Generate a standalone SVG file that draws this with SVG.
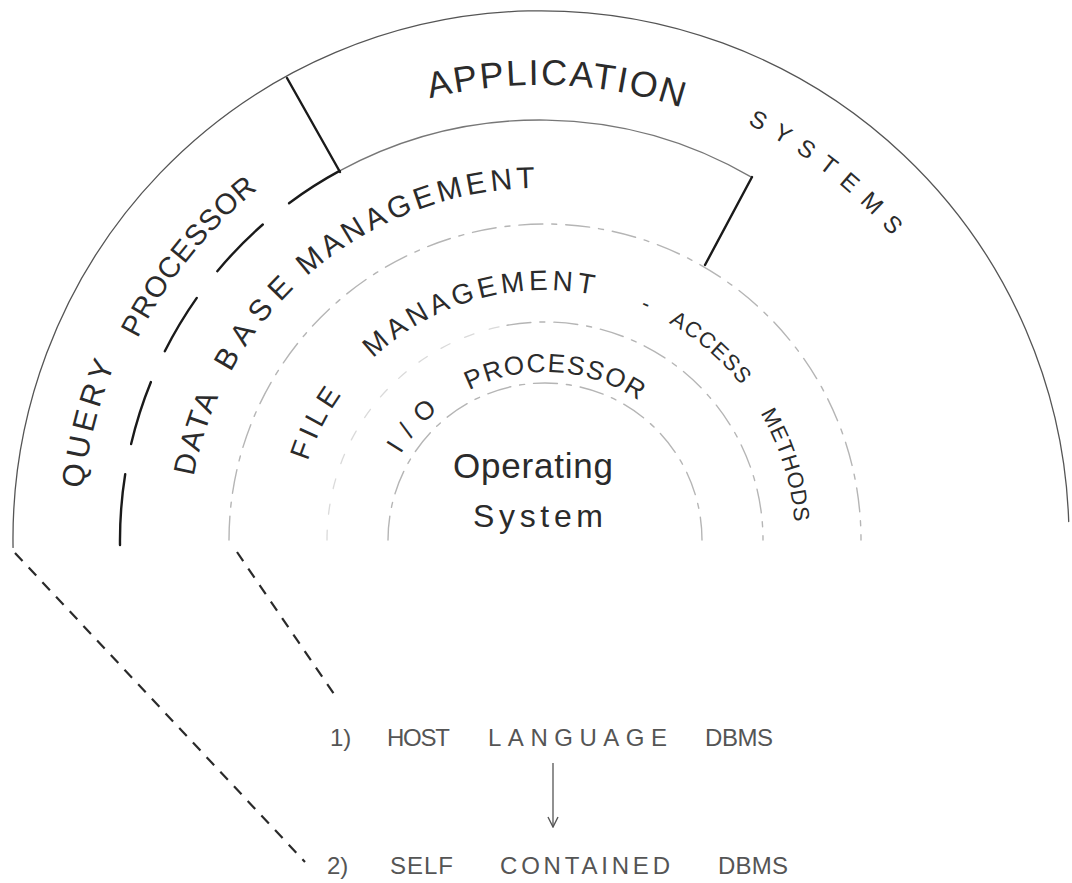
<svg xmlns="http://www.w3.org/2000/svg" width="1072" height="883" viewBox="0 0 1072 883">
<style>
.bg{fill:#ffffff}
.ring{fill:none;stroke:#555;stroke-width:1.3;stroke-linecap:round}
.ringlight{fill:none;stroke:#777;stroke-width:1.3;stroke-linecap:round}
.ink{fill:none;stroke:#1a1a1a;stroke-width:2.4;stroke-linecap:round}
.faint{fill:none;stroke:#b5b5b5;stroke-width:1.4;stroke-dasharray:24 9 5 9;stroke-linecap:round}
.fainter{fill:none;stroke:#dadada;stroke-width:1.3;stroke-dasharray:10 16;stroke-linecap:round}
.dash{fill:none;stroke:#2a2a2a;stroke-width:2.2;stroke-dasharray:11 9}
.lbl{font-family:"Liberation Sans",Arial,sans-serif;fill:#2b2b2b}
.low{font-family:"Liberation Sans",Arial,sans-serif;fill:#555;font-size:24px}
.arrow{fill:none;stroke:#555;stroke-width:1.3}
</style>
<defs>
<path id="pApp" d="M429.9,98.5 A455,455 0 0 1 684.4,108.5"/>
<path id="pSys" d="M747.5,123.9 A465,465 0 0 1 893.1,237.4"/>
<path id="pQuery" d="M82.9,488.7 A460,460 0 0 1 115.6,362.5"/>
<path id="pProc" d="M137.6,338.5 A450,450 0 0 1 259.3,188.3"/>
<path id="pDbm" d="M193.8,476.5 A352,352 0 0 1 536.9,188.0"/>
<path id="pFile" d="M295,540 A250,250 0 0 1 795,540"/>
<path id="pIO" d="M377,540 A168,168 0 0 1 713,540"/>
<marker id="head" viewBox="0 0 12 12" refX="11" refY="6" markerWidth="12" markerHeight="12" markerUnits="userSpaceOnUse" orient="auto">
<path d="M1,1 L11,6 L1,11" fill="none" stroke="#555" stroke-width="1.4"/>
</marker>
</defs>
<rect class="bg" x="0" y="0" width="1072" height="883"/>

<g id="rings">
<path id="outer-arc" class="ring" d="M13.05,547.4 A528,528 0 0 1 1068.7,521.6"/>
<path id="app-inner-arc" class="ringlight" d="M339.6,170.9 A420,420 0 0 1 751.9,177.4"/>
<path id="dbm-outer-dark" class="ink" d="M289.0,203.2 A420,420 0 0 1 339.6,170.9"/>
<path class="ink" d="M217.3,271.2 A420,420 0 0 1 262.8,224.5"/>
<path class="ink" d="M164.8,351.3 A420,420 0 0 1 196.8,297.9"/>
<path class="ink" d="M131.1,444.1 A420,420 0 0 1 150.9,382.0"/>
<path class="ink" d="M120.0,545.1 A420,420 0 0 1 125.2,474.3"/>
<line id="divider-1" class="ink" x1="287" y1="78" x2="340" y2="172"/>
<line id="divider-2" class="ink" x1="752" y1="177" x2="705" y2="265"/>
<path id="file-outer-arc" class="faint" d="M229,540 A316,316 0 0 1 861,540"/>
<path id="io-outer-arc-left" class="fainter" d="M327,540 A218,218 0 0 1 507.1,325.3"/>
<path id="io-outer-arc" class="faint" d="M507.1,325.3 A218,218 0 0 1 763,540"/>
<path id="os-arc" class="faint" d="M388,540 A157,157 0 0 1 702,540"/>
</g>

<g id="labels">
<g id="application-systems">
<text class="lbl" font-size="36"><textPath href="#pApp" textLength="255" lengthAdjust="spacing">APPLICATION</textPath></text>
<text class="lbl" font-size="24"><textPath href="#pSys" textLength="184" lengthAdjust="spacing">SYSTEMS</textPath></text>
</g>
<g id="query-processor">
<text class="lbl" font-size="31"><textPath href="#pQuery" textLength="129" lengthAdjust="spacing">QUERY</textPath></text>
<text class="lbl" font-size="29"><textPath href="#pProc" textLength="193" lengthAdjust="spacing">PROCESSOR</textPath></text>
</g>
<g id="data-base-management">
<text class="lbl" font-size="30"><textPath href="#pDbm" startOffset="0" textLength="84" lengthAdjust="spacing">DATA</textPath></text>
<text class="lbl" font-size="30"><textPath href="#pDbm" startOffset="111" textLength="106" lengthAdjust="spacing">BASE</textPath></text>
<text class="lbl" font-size="30"><textPath href="#pDbm" startOffset="234" textLength="250" lengthAdjust="spacing">MANAGEMENT</textPath></text>
</g>
<g id="file-management">
<text class="lbl" font-size="28"><textPath href="#pFile" startOffset="80" textLength="75" lengthAdjust="spacing">FILE</textPath></text>
<text class="lbl" font-size="28"><textPath href="#pFile" startOffset="203" textLength="238" lengthAdjust="spacing">MANAGEMENT</textPath></text>
<text class="lbl" font-size="22"><textPath href="#pFile" startOffset="490">-</textPath></text>
<text class="lbl" font-size="22"><textPath href="#pFile" startOffset="522" textLength="96" lengthAdjust="spacing">ACCESS</textPath></text>
<text class="lbl" font-size="22"><textPath href="#pFile" startOffset="652" textLength="115" lengthAdjust="spacing">METHODS</textPath></text>
</g>
<g id="io-processor">
<text class="lbl" font-size="26"><textPath href="#pIO" startOffset="90" textLength="58" lengthAdjust="spacing">I/O</textPath></text>
<text class="lbl" font-size="26"><textPath href="#pIO" startOffset="185" textLength="178" lengthAdjust="spacing">PROCESSOR</textPath></text>
</g>
<g id="operating-system">
<text class="lbl" font-size="35" x="453" y="478" textLength="160" lengthAdjust="spacing">Operating</text>
<text class="lbl" font-size="32" x="473" y="527" textLength="130" lengthAdjust="spacing">System</text>
</g>
<g id="host-language">
<text class="low" y="746"><tspan x="330">1)</tspan><tspan x="387" textLength="63" lengthAdjust="spacing">HOST</tspan><tspan x="488" textLength="179" lengthAdjust="spacing">LANGUAGE</tspan><tspan x="705" textLength="68" lengthAdjust="spacing">DBMS</tspan></text>
</g>
<g id="self-contained">
<text class="low" y="874"><tspan x="327">2)</tspan><tspan x="390" textLength="63" lengthAdjust="spacing">SELF</tspan><tspan x="500" textLength="170" lengthAdjust="spacing">CONTAINED</tspan><tspan x="718" textLength="70" lengthAdjust="spacing">DBMS</tspan></text>
</g>
</g>

<g id="connectors">
<line class="dash" x1="15" y1="553" x2="305" y2="862"/>
<line class="dash" x1="237" y1="552" x2="336" y2="697"/>
<line class="arrow" x1="553" y1="763" x2="553" y2="827" marker-end="url(#head)"/>
</g>
</svg>
